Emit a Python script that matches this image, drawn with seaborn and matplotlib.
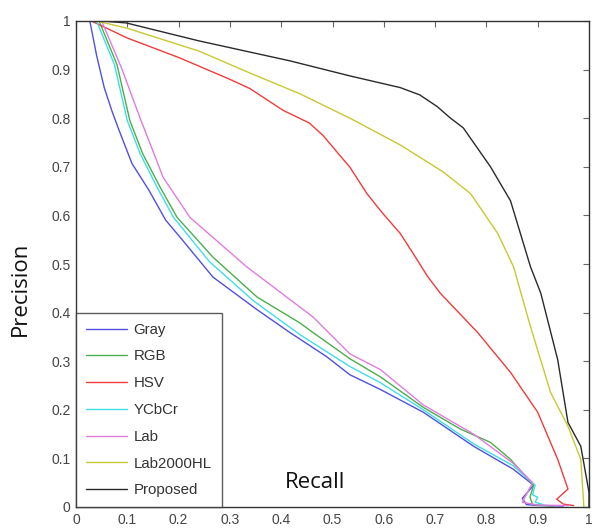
import matplotlib
matplotlib.use("Agg")
import matplotlib.pyplot as plt
import seaborn as sns
import pandas as pd
import numpy as np

methods = ["Gray", "RGB", "HSV", "YCbCr", "Lab", "Lab2000HL", "Proposed"]
colors = ["#5050e0", "#4cae4c", "#f03c3c", "#40dde8", "#e07ce0", "#c8c832", "#2a2a2a"]

gray_r = [0.027, 0.04, 0.055, 0.07, 0.084, 0.109, 0.142, 0.175, 0.203, 0.267, 0.353, 0.417, 0.489, 0.534, 0.593, 0.677, 0.775, 0.852, 0.892, 0.88, 0.87, 0.878, 0.9, 0.95]
gray_p = [1.0, 0.93, 0.863, 0.815, 0.775, 0.707, 0.652, 0.59, 0.555, 0.473, 0.406, 0.359, 0.309, 0.272, 0.242, 0.195, 0.125, 0.078, 0.045, 0.03, 0.018, 0.005, 0.003, 0.002]

rgb_r = [0.045, 0.08, 0.105, 0.13, 0.164, 0.197, 0.267, 0.353, 0.436, 0.462, 0.534, 0.593, 0.677, 0.75, 0.808, 0.847, 0.892, 0.885, 0.89, 0.93]
rgb_p = [1.0, 0.91, 0.795, 0.727, 0.658, 0.596, 0.514, 0.432, 0.379, 0.359, 0.305, 0.268, 0.205, 0.16, 0.133, 0.098, 0.045, 0.02, 0.005, 0.002]

hsv_r = [0.03, 0.1, 0.2, 0.3, 0.339, 0.404, 0.455, 0.482, 0.505, 0.534, 0.567, 0.598, 0.632, 0.657, 0.685, 0.71, 0.783, 0.847, 0.9, 0.939, 0.959, 0.937, 0.95, 0.97]
hsv_p = [1.0, 0.965, 0.925, 0.88, 0.861, 0.816, 0.79, 0.764, 0.735, 0.699, 0.645, 0.604, 0.563, 0.522, 0.475, 0.44, 0.359, 0.277, 0.195, 0.098, 0.037, 0.016, 0.006, 0.003]

ycbcr_r = [0.04, 0.075, 0.1, 0.125, 0.158, 0.19, 0.26, 0.345, 0.436, 0.534, 0.593, 0.677, 0.775, 0.852, 0.895, 0.89, 0.9, 0.895, 0.91]
ycbcr_p = [1.0, 0.91, 0.795, 0.727, 0.658, 0.596, 0.505, 0.425, 0.355, 0.289, 0.256, 0.2, 0.13, 0.085, 0.045, 0.025, 0.02, 0.01, 0.005]

lab_r = [0.05, 0.09, 0.125, 0.17, 0.222, 0.333, 0.462, 0.534, 0.593, 0.677, 0.775, 0.852, 0.89, 0.87, 0.9, 0.96]
lab_p = [1.0, 0.9, 0.8, 0.678, 0.596, 0.494, 0.391, 0.315, 0.283, 0.21, 0.15, 0.09, 0.05, 0.01, 0.004, 0.003]

lab2000_r = [0.04, 0.1, 0.24, 0.339, 0.437, 0.534, 0.632, 0.715, 0.769, 0.822, 0.853, 0.886, 0.925, 0.959, 0.984, 0.99]
lab2000_p = [1.0, 0.985, 0.938, 0.893, 0.85, 0.8, 0.745, 0.69, 0.645, 0.563, 0.494, 0.371, 0.236, 0.166, 0.098, 0.0]

prop_r = [0.05, 0.098, 0.24, 0.417, 0.534, 0.632, 0.67, 0.704, 0.729, 0.755, 0.808, 0.847, 0.886, 0.906, 0.939, 0.959, 0.984, 1.0, 1.0]
prop_p = [1.0, 0.996, 0.959, 0.918, 0.887, 0.863, 0.848, 0.824, 0.801, 0.78, 0.70, 0.63, 0.494, 0.44, 0.303, 0.174, 0.125, 0.03, 0.0]

ticks = [0, 0.1, 0.2, 0.3, 0.4, 0.5, 0.6, 0.7, 0.8, 0.9, 1.0]
tick_labels = ["0", "0.1", "0.2", "0.3", "0.4", "0.5", "0.6", "0.7", "0.8", "0.9", "1"]

series = {
    "Gray": (gray_r, gray_p),
    "RGB": (rgb_r, rgb_p),
    "HSV": (hsv_r, hsv_p),
    "YCbCr": (ycbcr_r, ycbcr_p),
    "Lab": (lab_r, lab_p),
    "Lab2000HL": (lab2000_r, lab2000_p),
    "Proposed": (prop_r, prop_p),
}
rows = []
for m in methods:
    r, p = series[m]
    for i, (a, b) in enumerate(zip(r, p)):
        rows.append({"method": m, "order": i, "Recall": a, "Precision": b})
df = pd.DataFrame(rows)

sns.set_style("white")
plt.rcParams["font.family"] = ["Liberation Sans", "DejaVu Sans"]

fig = plt.figure(figsize=(5.92, 5.30), dpi=100)
ax = fig.add_axes([76 / 592, 23 / 530, 513 / 592, 486 / 530])

sns.lineplot(data=df, x="Recall", y="Precision", hue="method", hue_order=methods,
             palette=dict(zip(methods, colors)), sort=False, estimator=None,
             linewidth=1.0, ax=ax)

ax.set_xlim(0, 1)
ax.set_ylim(0, 1)
ax.set_xticks(ticks)
ax.set_xticklabels(tick_labels)
ax.set_yticks(ticks)
ax.set_yticklabels(tick_labels)
ax.tick_params(direction="in", top=True, right=True, length=4, width=0.8,
               color="#666666", labelcolor="#444444", labelsize=10, pad=4)
for s in ax.spines.values():
    s.set_color("#333333")
    s.set_linewidth(1.0)

ax.set_xlabel("Recall", fontsize=16, family=["Open Sans", "DejaVu Sans"], color="#111111")
ax.set_ylabel("Precision", fontsize=16, family=["Open Sans", "DejaVu Sans"], color="#111111")
ax.xaxis.label.set_va("center")
ax.yaxis.label.set_va("center")
ax.xaxis.set_label_coords(0.466, 0.051)
ax.yaxis.set_label_coords(-0.109, 0.449)

leg = ax.legend(loc="lower left", bbox_to_anchor=(0, 0), borderaxespad=0,
                fancybox=False, frameon=True, edgecolor="#333333", fontsize=10.8,
                handlelength=2.75, handletextpad=0.45, labelspacing=0.85,
                borderpad=0.65, title=None)
leg.get_frame().set_linewidth(1.0)
for t in leg.get_texts():
    t.set_color("#333333")

fig.savefig("out.png", dpi=100)
